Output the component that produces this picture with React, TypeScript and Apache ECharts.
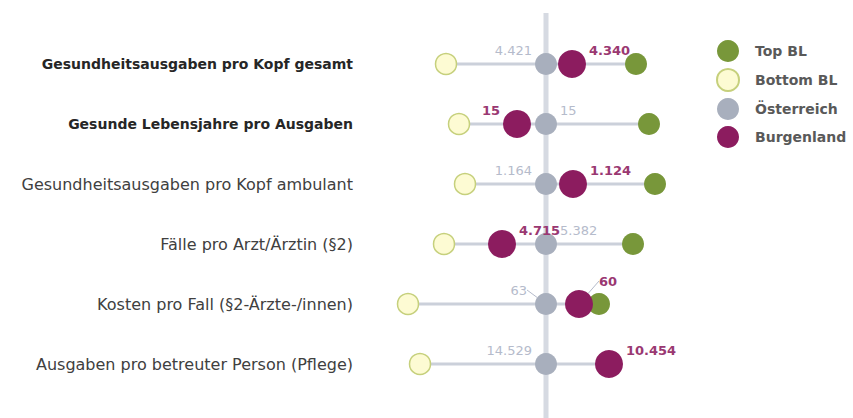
import React, { useEffect, useRef } from 'react';
import * as echarts from 'echarts';

// Rows (top to bottom)
const categories = [
  'Gesundheitsausgaben pro Kopf gesamt',
  'Gesunde Lebensjahre pro Ausgaben',
  'Gesundheitsausgaben pro Kopf ambulant',
  'Fälle pro Arzt/Ärztin (§2)',
  'Kosten pro Fall (§2-Ärzte-/innen)',
  'Ausgaben pro betreuter Person (Pflege)',
];

// Relative position index (Österreich = 0)
const topBL = [90, 103, 109, 87, 53, 63];
const bottomBL = [-100, -87, -81, -102, -138, -126];
const austria = [0, 0, 0, 0, 0, 0];
const burgenland = [26, -29, 27, -44, 33, 63];

// Displayed absolute values
const austriaValueLabels = [4421, 15, 1164, 5382, 63, 14529];
const burgenlandValueLabels = [4340, 15, 1124, 4715, 60, 10454];

// styling helpers (not data)
const boldRows = [0, 1];
const burgenlandLabelSide = ['right', 'left', 'right', 'right', 'right', 'right'];

const FONT = 'DejaVu Sans';
const fmt = (n: number) => n.toString().replace(/\B(?=(\d{3})+(?!\d))/g, '.');

export default function App() {
  const ref = useRef<HTMLDivElement>(null);
  useEffect(() => {
    if (!ref.current) return;
    const chart = echarts.init(ref.current, undefined, { renderer: 'svg' });

    const rangeData = categories.map((c, i) => {
      const vals = [topBL[i], bottomBL[i], austria[i], burgenland[i]];
      return [Math.min(...vals), Math.max(...vals), i];
    });

    const option: any = {
      animation: false,
      backgroundColor: '#ffffff',
      legend: {
        orient: 'vertical',
        left: 711,
        top: 35,
        itemWidth: 44,
        itemHeight: 22,
        itemGap: 6,
        icon: 'circle',
        data: ['Top BL', 'Bottom BL', 'Österreich', 'Burgenland'],
        textStyle: { fontFamily: FONT, fontSize: 14, fontWeight: 'bold', color: '#595959' },
        selectedMode: false,
      },
      grid: [
        { left: 396, right: 157, top: 34, height: 360 },
        { left: 396, right: 157, top: 13, bottom: 0 },
      ],
      xAxis: [
        { type: 'value', min: -150, max: 150, show: false, gridIndex: 0 },
        { type: 'value', min: -150, max: 150, show: false, gridIndex: 1 },
      ],
      yAxis: [
        {
          type: 'category',
          data: categories,
          inverse: true,
          gridIndex: 0,
          axisLine: { show: false },
          axisTick: { show: false },
          splitLine: { show: false },
          axisLabel: {
            margin: 43,
            formatter: (v: string, i: number) => (boldRows.includes(i) ? `{b|${v}}` : `{n|${v}}`),
            rich: {
              b: { fontFamily: FONT, fontSize: 14, fontWeight: 'bold', color: '#262626' },
              n: { fontFamily: FONT, fontSize: 16, color: '#404040' },
            },
          },
        },
        { type: 'value', min: 0, max: 1, show: false, gridIndex: 1 },
      ],
      series: [
        {
          type: 'line',
          xAxisIndex: 1,
          yAxisIndex: 1,
          data: [
            [austria[0], 0],
            [austria[0], 1],
          ],
          symbol: 'none',
          silent: true,
          z: 1,
          lineStyle: { color: '#d6dae2', width: 5 },
        },
        {
          type: 'custom',
          xAxisIndex: 0,
          yAxisIndex: 0,
          z: 1,
          silent: true,
          data: rangeData,
          renderItem: (params: any, api: any) => {
            const p1 = api.coord([api.value(0), api.value(2)]);
            const p2 = api.coord([api.value(1), api.value(2)]);
            return {
              type: 'line',
              shape: { x1: p1[0], y1: p1[1], x2: p2[0], y2: p2[1] },
              style: { stroke: '#cbd0da', lineWidth: 3 },
            };
          },
        },
        {
          name: 'Bottom BL',
          type: 'scatter',
          symbolSize: 21,
          data: bottomBL.map((v, i) => [v, i]),
          itemStyle: { color: '#fdfbd3', borderColor: '#c6d07c', borderWidth: 1.5, opacity: 1 },
          z: 3,
        },
        {
          name: 'Top BL',
          type: 'scatter',
          symbolSize: 22,
          data: topBL.map((v, i) => [v, i]),
          itemStyle: { color: '#78973a', opacity: 1 },
          z: 3,
        },
        {
          name: 'Österreich',
          type: 'scatter',
          symbolSize: 22,
          data: austria.map((v, i) => ({
            value: [v, i],
            label: { position: burgenland[i] < 0 ? 'right' : 'left' },
            labelLine: { show: i === 4 },
          })),
          itemStyle: { color: '#a8afbd', opacity: 1 },
          z: 4,
          label: {
            show: true,
            distance: 3,
            fontFamily: FONT,
            fontSize: 13,
            color: '#b5bbcb',
            formatter: (p: any) => fmt(austriaValueLabels[p.dataIndex]),
          },
          labelLine: { lineStyle: { color: '#b5bbcb', width: 1 } },
          labelLayout: (p: any) => (p.dataIndex === 4 ? { dx: -5, dy: -14 } : { dy: -14 }),
        },
        {
          name: 'Burgenland',
          type: 'scatter',
          symbolSize: 28,
          data: burgenland.map((v, i) => ({
            value: [v, i],
            label: { position: burgenlandLabelSide[i] },
            labelLine: { show: i === 4 },
          })),
          itemStyle: { color: '#8c1c5f', opacity: 1 },
          z: 5,
          label: {
            show: true,
            distance: 3,
            fontFamily: FONT,
            fontSize: 13,
            fontWeight: 'bold',
            color: '#9a3872',
            formatter: (p: any) => fmt(burgenlandValueLabels[p.dataIndex]),
          },
          labelLine: { lineStyle: { color: '#b5bbcb', width: 1 } },
          labelLayout: (p: any) => (p.dataIndex === 4 ? { dx: 3, dy: -23 } : { dy: -14 }),
        },
      ],
    };
    chart.setOption(option);
    return () => chart.dispose();
  }, []);

  return (
    <div
      ref={ref}
      style={{ position: 'absolute', left: 0, top: 0, width: 853, height: 418 }}
    />
  );
}
